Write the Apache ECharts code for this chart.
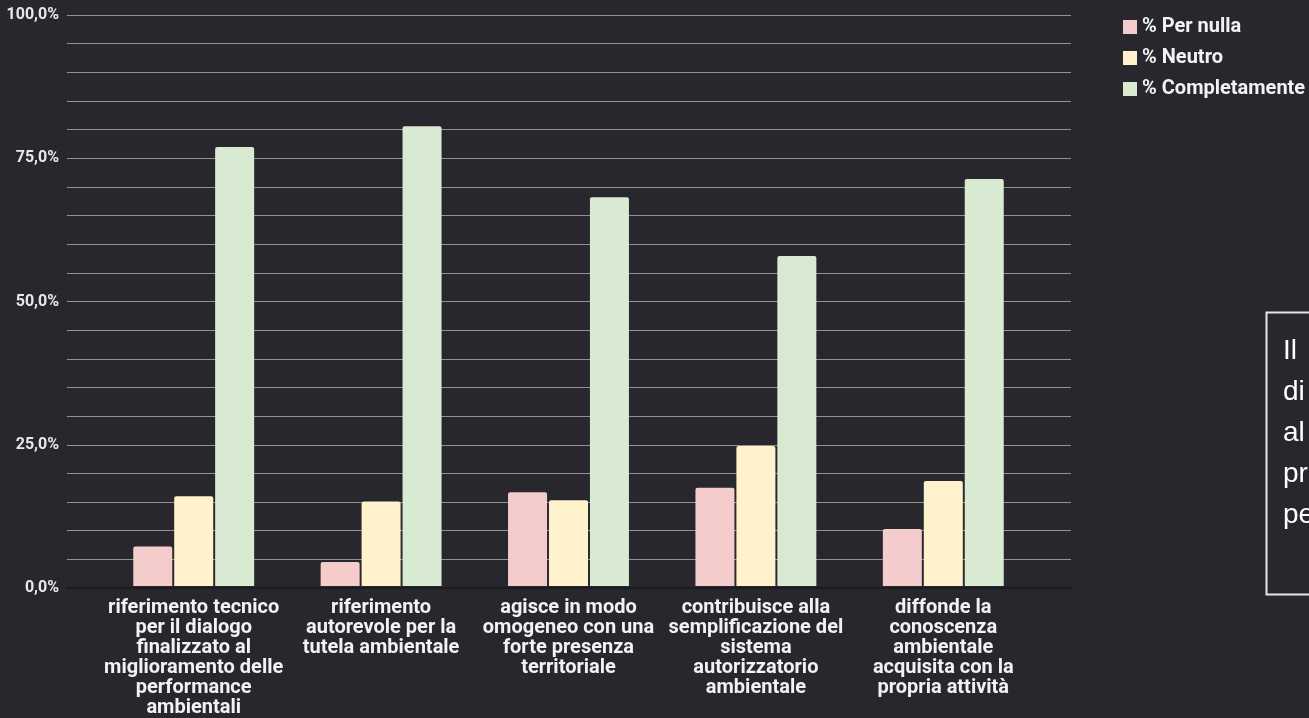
<!DOCTYPE html>
<html>
<head>
<meta charset="utf-8">
<script src="https://cdn.jsdelivr.net/npm/echarts@6/dist/echarts.min.js"></script>
<style>
html,body{margin:0;padding:0;background:#28272d;}
#chart{width:1309px;height:718px;}
</style>
</head>
<body>
<div id="chart"></div>
<script>
const categories = [
  "riferimento tecnico\nper il dialogo\nfinalizzato al\nmiglioramento delle\nperformance\nambientali",
  "riferimento\nautorevole per la\ntutela ambientale",
  "agisce in modo\nomogeneo con una\nforte presenza\nterritoriale",
  "contribuisce alla\nsemplificazione del\nsistema\nautorizzatorio\nambientale",
  "diffonde la\nconoscenza\nambientale\nacquisita con la\npropria attività"
];
const seriesNames = ["% Per nulla", "% Neutro", "% Completamente"];
const perNulla = [6.9, 4.2, 16.4, 17.2, 10.0];
const neutro = [15.7, 14.8, 15.0, 24.5, 18.4];
const completamente = [76.9, 80.5, 68.1, 57.8, 71.3];
const noteLines = ["Il", "di", "al", "pr", "pe"];

const colors = ["#f4cccc", "#fff2cc", "#d9ead3"];
const chart = echarts.init(document.getElementById('chart'), null, {renderer: 'canvas'});

function mkSeries(name, data, i) {
  return {
    name: name, type: 'bar', data: data,
    xAxisIndex: 1, yAxisIndex: 1,
    barWidth: 39, barGap: '5%',
    itemStyle: {color: colors[i], borderRadius: [2, 2, 0, 0]},
    emphasis: {disabled: true}
  };
}

chart.setOption({
  backgroundColor: '#28272d',
  animation: false,
  grid: [
    {left: 67, right: 238, top: 15, bottom: 130},
    {left: 100, right: 272, top: 15, bottom: 130}
  ],
  xAxis: [
    {gridIndex: 0, type: 'category', data: categories,
     axisLine: {show: true, lineStyle: {color: '#1b1b1e', width: 2}},
     axisTick: {show: false}, axisLabel: {show: false}, splitLine: {show: false}},
    {gridIndex: 1, type: 'category', data: categories,
     axisLine: {show: false}, axisTick: {show: false},
     axisLabel: {interval: 0, margin: 12, color: '#f2f2f2', fontFamily: 'Roboto',
                 fontWeight: 'bold', fontSize: 20, lineHeight: 20, align: 'center'}}
  ],
  yAxis: [
    {gridIndex: 0, type: 'value', min: 0, max: 100, interval: 5,
     axisLine: {show: false}, axisTick: {show: false},
     splitLine: {lineStyle: {color: '#929292', width: 1}},
     axisLabel: {margin: 8, color: '#e8e8e8', fontFamily: 'Roboto', fontWeight: 'bold', fontSize: 16,
       formatter: function (v) { return v % 25 === 0 ? v.toFixed(1).replace('.', ',') + '%' : ''; }}},
    {gridIndex: 1, type: 'value', min: 0, max: 100, show: false}
  ],
  legend: {
    orient: 'vertical', left: 1118, top: 12,
    icon: 'rect', itemWidth: 14, itemHeight: 14, itemGap: 11,
    textStyle: {color: '#f2f2f2', fontFamily: 'Roboto', fontWeight: 'bold', fontSize: 20, lineHeight: 20},
    data: seriesNames
  },
  graphic: [
    {type: 'rect', left: 1264, top: 310, shape: {width: 200, height: 282},
     style: {fill: 'none', stroke: '#e6e6e6', lineWidth: 2}},
    {type: 'text', left: 1283, top: 331,
     style: {text: noteLines.join('\n'), fill: '#ffffff', font: '28px "Liberation Sans", Arial, sans-serif', lineHeight: 41}}
  ],
  series: [
    mkSeries(seriesNames[0], perNulla, 0),
    mkSeries(seriesNames[1], neutro, 1),
    mkSeries(seriesNames[2], completamente, 2)
  ]
});
</script>
</body>
</html>
